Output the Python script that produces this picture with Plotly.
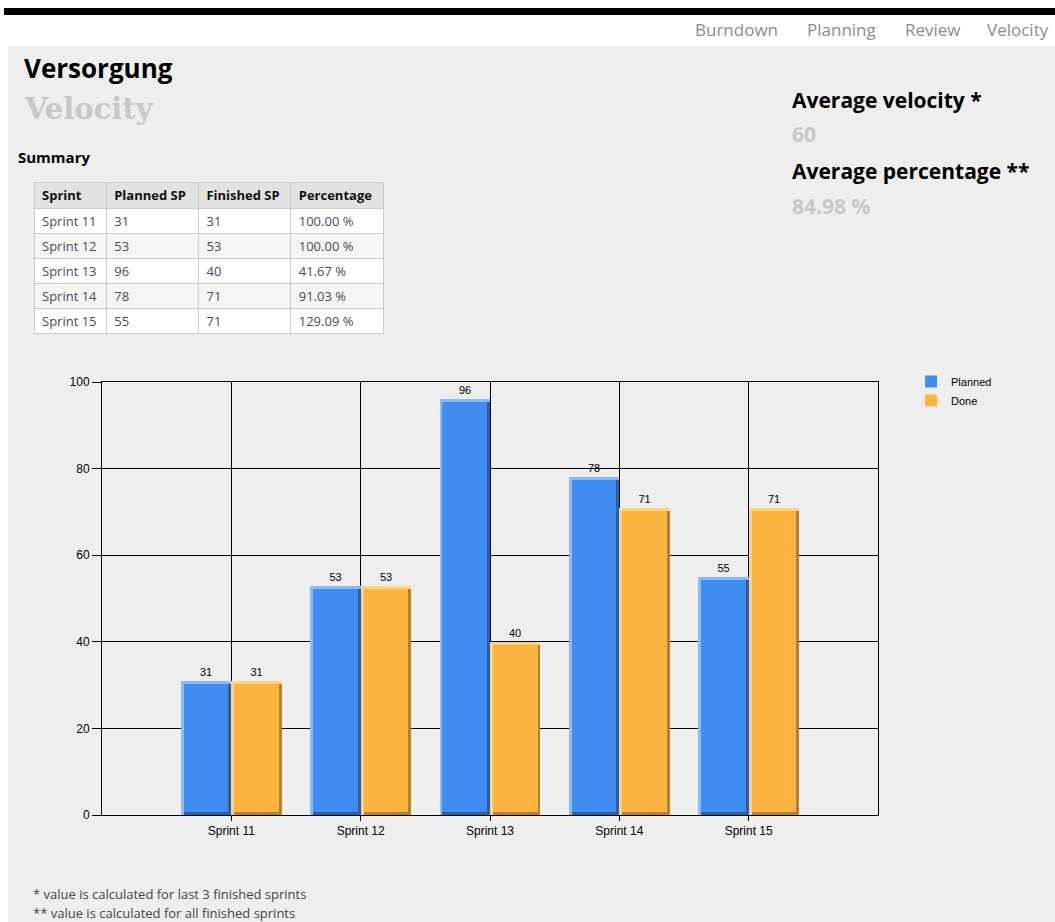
import plotly.graph_objects as go

# ---------------- data ----------------
sprints = ["Sprint 11", "Sprint 12", "Sprint 13", "Sprint 14", "Sprint 15"]
planned = [31, 53, 96, 78, 55]
done = [31, 53, 40, 71, 71]
percentages = ["100.00 %", "100.00 %", "41.67 %", "91.03 %", "129.09 %"]
y_ticks = [0, 20, 40, 60, 80, 100]
avg_velocity = "60"
avg_percentage = "84.98 %"
nav_links = ["Burndown", "Planning", "Review", "Velocity"]

W, H = 1055, 922
def px(x):
    return x / W
def py(y):
    return 1 - y / H

BLUE, BLUE_L, BLUE_D = "#418CF0", "#8DBAF6", "#2B5FA6"
ORANGE, ORANGE_L, ORANGE_D = "#FCB441", "#FDD38C", "#B3812F"
PAGE = "#EEEEEE"
FONT = "Open Sans, Noto Sans, sans-serif"
CHART_FONT = "Liberation Sans, Arial, sans-serif"
NB = "\u00a0"

xs = list(range(len(sprints)))
BW = 0.39        # bar width in category units
EX = 0.022       # bevel width in category units (~3px)
EY = 0.7         # bevel height in value units (~3px)

fig = go.Figure()

def bevel_bar(values, name, off, c_main, c_light, c_dark):
    # light outer body (left/top highlight)
    fig.add_trace(go.Bar(
        x=xs, y=values, width=BW, offset=off, marker=dict(color=c_light, line=dict(width=0)),
        showlegend=False, hoverinfo="skip",
        text=[str(v) for v in values], textposition="outside",
        textfont=dict(family=CHART_FONT, size=11, color="#000"), cliponaxis=False,
    ))
    # dark shade (right/bottom)
    fig.add_trace(go.Bar(
        x=xs, y=[v - EY for v in values], width=BW - EX, offset=off + EX,
        marker=dict(color=c_dark, line=dict(width=0)), showlegend=False, hoverinfo="skip",
    ))
    # main face
    fig.add_trace(go.Bar(
        x=xs, y=[v - 2 * EY for v in values], base=EY, width=BW - 2 * EX, offset=off + EX,
        marker=dict(color=c_main, line=dict(width=0)), name=name,
        customdata=values, hovertemplate=name + ": %{customdata}<extra></extra>",
    ))

bevel_bar(planned, "Planned", -BW, BLUE, BLUE_L, BLUE_D)
bevel_bar(done, "Done", 0.0, ORANGE, ORANGE_L, ORANGE_D)

# summary table
fig.add_trace(go.Table(
    domain=dict(x=[px(34), px(383)], y=[py(345), py(182)]),
    columnwidth=[72, 92, 92, 92],
    header=dict(
        values=["Sprint", "Planned" + NB + "SP", "Finished" + NB + "SP", "Percentage"],
        fill_color="#E2E2E2", line_color="#CCCCCC", align="left", height=26,
        font=dict(family=FONT, size=13, color="#111", weight="bold"),
    ),
    cells=dict(
        values=[[s.replace(" ", NB) for s in sprints], planned, done,
                [p.replace(" ", NB) for p in percentages]],
        fill_color=[["#FFFFFF", "#F5F5F5", "#FFFFFF", "#F5F5F5", "#FFFFFF"]],
        line_color="#CCCCCC", align="left", height=25,
        font=dict(family=FONT, size=13, color="#4A4A5A"),
    ),
))

shapes = [
    dict(type="rect", xref="paper", yref="paper", x0=px(4), x1=1, y0=py(15), y1=py(8),
         fillcolor="#000", line=dict(width=0), layer="below"),
    dict(type="rect", xref="paper", yref="paper", x0=px(8), x1=1, y0=0, y1=py(46),
         fillcolor=PAGE, line=dict(width=0), layer="below"),
]

annotations = []
def txt(x, y, s, size, color="#000", family=FONT, bold=False, anchor="left"):
    annotations.append(dict(
        xref="paper", yref="paper", x=px(x), y=py(y), text=("<b>%s</b>" % s) if bold else s,
        showarrow=False, xanchor=anchor, yanchor="middle",
        font=dict(family=family, size=size, color=color),
    ))

nav_x = [693, 805, 903, 985]
for name, x in zip(nav_links, nav_x):
    txt(x, 30, name, 17, "#8C8C8C")

txt(22, 68, "Versorgung", 26, "#000", bold=True)
txt(22, 109, "Velocity", 29, "#C8C8C8", family="DejaVu Serif, serif", bold=True)
txt(16, 157, "Summary", 15, "#000", bold=True)

txt(790, 100, "Average velocity *", 21, "#000", bold=True)
txt(790, 134, avg_velocity, 21, "#C8C8C8", bold=True)
txt(790, 171, "Average percentage **", 21, "#000", bold=True)
txt(790, 206, avg_percentage, 21, "#C8C8C8", bold=True)

txt(31, 894, "* value is calculated for last 3 finished sprints", 13, "#444")
txt(31, 913, "** value is calculated for all finished sprints", 13, "#444")

fig.update_layout(
    width=W, height=H, margin=dict(l=0, r=0, t=0, b=0, pad=0, autoexpand=False),
    paper_bgcolor="#FFFFFF", plot_bgcolor=PAGE,
    barmode="overlay", bargap=0,
    showlegend=True,
    legend=dict(x=px(911), y=py(367), xanchor="left", yanchor="top",
                bgcolor="rgba(0,0,0,0)", font=dict(family=CHART_FONT, size=11, color="#000"),
                itemsizing="constant", tracegroupgap=0),
    shapes=shapes, annotations=annotations,
    xaxis=dict(
        domain=[px(102), px(878)], range=[-1, 5], automargin=False,
        tickmode="array", tickvals=xs, ticktext=sprints,
        showgrid=True, gridcolor="#000", gridwidth=1,
        showline=True, linecolor="#000", linewidth=1, mirror=True,
        ticks="outside", ticklen=5, tickcolor="#000",
        tickfont=dict(family=CHART_FONT, size=12, color="#000"),
        zeroline=False, fixedrange=True,
    ),
    yaxis=dict(
        domain=[py(815), py(382)], range=[0, 100], automargin=False,
        tickmode="array", tickvals=y_ticks,
        showgrid=True, gridcolor="#000", gridwidth=1,
        showline=True, linecolor="#000", linewidth=1, mirror=True,
        ticks="outside", ticklen=9, tickcolor="#000",
        tickfont=dict(family=CHART_FONT, size=12, color="#000"),
        zeroline=False, fixedrange=True,
    ),
)

fig.write_html("out.html", config=dict(displayModeBar=False),
               post_script="document.body.style.margin='0';document.body.style.overflow='hidden';")
